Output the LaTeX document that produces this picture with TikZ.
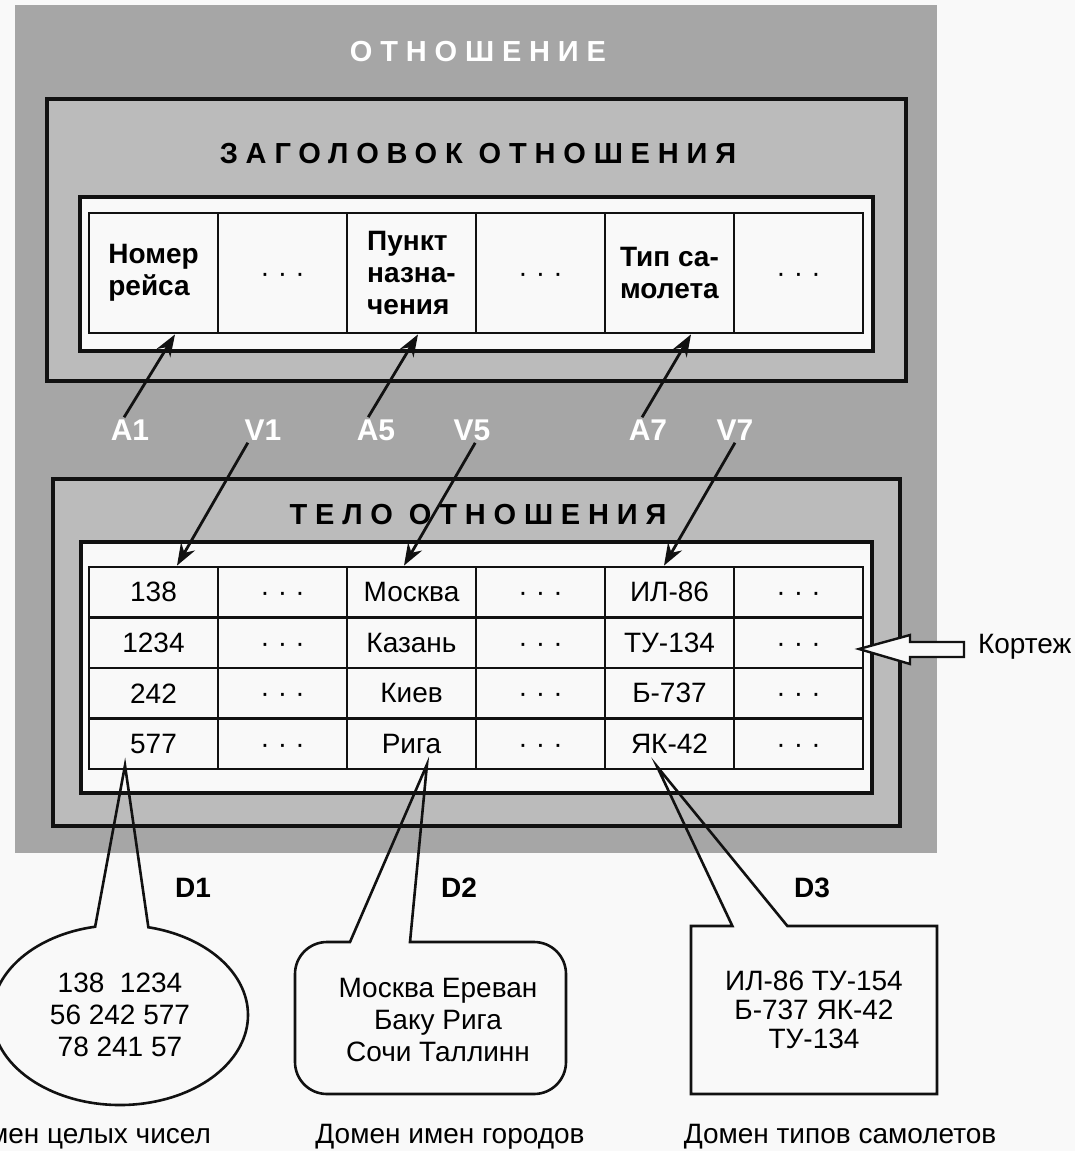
\documentclass[tikz,border=0pt]{standalone}
\usepackage{fontspec}
\setmainfont{Liberation Sans}
\newfontfamily\spacedfont[LetterSpace=27]{Liberation Sans}
\usetikzlibrary{positioning,calc,shapes.geometric,shapes.callouts,arrows.meta}
\definecolor{paper}   {HTML}{F9F9F9}
\definecolor{relgray} {HTML}{A6A6A6}
\definecolor{partgray}{HTML}{BBBBBB}
\definecolor{ink}     {HTML}{111111}
\newcommand\celldots{\mdseries\vphantom{0}\makebox[8.75pt]{·}\makebox[8.75pt]{·}\makebox[8.75pt]{·}}
\tikzset{
  >={Stealth[length=11pt,width=8pt]},
  % --- areas
  part/.style  = {draw=ink, line width=1.7pt, fill=partgray},
  frame/.style = {draw=ink, line width=1.7pt, fill=paper},
  % --- cells
  cell/.style  = {draw=ink, line width=1.4pt, fill=paper, minimum width=64.5pt,
                  inner sep=0pt, align=left},
  hcell/.style = {cell, minimum height=60pt, font=\fontsize{14}{16}\selectfont\bfseries},
  bcell/.style = {cell, minimum height=25.25pt, font=\fontsize{14}{16}\selectfont},
  % --- texts
  title/.style = {font=\spacedfont\bfseries\fontsize{14.5}{16}\selectfont},
  wlbl/.style  = {font=\fontsize{15}{16}\selectfont\bfseries, text=white, inner sep=1pt},
  dlbl/.style  = {font=\fontsize{14}{16}\selectfont\bfseries},
  txt/.style   = {font=\fontsize{14}{16}\selectfont, align=center},
  % --- lines
  callline/.style = {draw=ink, line width=1.3pt},
  link/.style     = {->, draw=ink, line width=1.4pt},
  fatarrow/.style = {draw=ink, line width=1.2pt, fill=paper, line join=miter},
}

\begin{document}
\begin{tikzpicture}[x=0.5pt,y=-0.5pt]
  \useasboundingbox (0,0) rectangle (1075,1151);
  \fill[paper] (0,0) rectangle (1075,1151);

  % relation
  \fill[relgray] (15,5) rectangle (937,853);
  \node[title, text=white] (rel) at (478,52) {ОТНОШЕНИЕ};

  % heading
  \draw[part] (47,99) rectangle (906,381);
  \node[title] (headttl) at (478,154) {ЗАГОЛОВОК ОТНОШЕНИЯ};
  \draw[frame] (80,197) rectangle (873,351);
  \foreach \t [count=\i] in {{Номер\\рейса},\celldots,{Пункт\\назна-\\чения},\celldots,{Тип са-\\молета},\celldots}
    \node[hcell] (h\i) at ({24.5+129*\i},273) {\t};

  % body
  \draw[part] (53,479) rectangle (900,826);
  \node[title] (bodyttl) at (478,515) {ТЕЛО ОТНОШЕНИЯ};
  \draw[frame] (81,542) rectangle (872,793);
  \foreach \num/\city/\plane [count=\j] in {138/Москва/ИЛ-86,1234/Казань/ТУ-134,242/Киев/Б-737,577/Рига/ЯК-42}
    \foreach \t [count=\i] in {\num,\celldots,\city,\celldots,\plane,\celldots}
      \node[bcell] (b\j\i) at ({24.5+129*\i},{541.75+50.5*\j}) {\t};

  % attributes and values
  \node[wlbl] (a1) at (130,430) {A1};
  \node[wlbl] (v1) at (263,430) {V1};
  \node[wlbl] (a5) at (376,430) {A5};
  \node[wlbl] (v5) at (472,430) {V5};
  \node[wlbl] (a7) at (648,430) {A7};
  \node[wlbl] (v7) at (735,430) {V7};
  \draw[link] (a1.115) -- ($(h1.south)+(21.5,0)$);
  \draw[link] (a5.121) -- ($(h3.south)+(6.5,0)$);
  \draw[link] (a7.115) -- ($(h5.south)+(21.5,0)$);
  \draw[link] (v1.220) -- ($(b11.north)+(23.5,0)$);
  \draw[link] (v5.284) -- ($(b13.north)+(-7.5,0)$);
  \draw[link] (v7.270) -- ($(b15.north)+(-5.5,0)$);

  % tuple
  \node[txt, anchor=west] (kort) at (971,647) {Кортеж};
  \coordinate (ktip) at (859,649);
  \draw[fatarrow] (ktip) -- ++(51,-14) -- ++(0,7) -- ++(54,0) -- ++(0,15)
    -- ++(-54,0) -- ++(0,7) -- cycle;

  % domains
  \node[dlbl] (d1) at (193,888) {D1};
  \node[dlbl] (d2) at (459,888) {D2};
  \node[dlbl] (d3) at (812,888) {D3};

  \node[ellipse callout, callline, txt, minimum width=128pt, minimum height=90pt,
        callout absolute pointer={($(b41.south)+(-28.5,-5)$)}, callout pointer arc=24]
        (dom1) at (120,1015) {138\ \ 1234\\56 242 577\\78 241 57};

  \node[txt] (dom2) at (438,1020) {Москва Ереван\\Баку Рига\\Сочи Таллинн};
  \coordinate (tip2) at ($(b43.south)+(15.5,-6)$);
  \draw[callline] (tip2) -- (350,942) [rounded corners=16pt] -- (295,942) -- (295,1094)
    -- (566,1094) -- (566,942) [sharp corners] -- (410,942) -- cycle;

  \node[rectangle callout, callline, txt, font=\fontsize{14}{14.5}\selectfont,
        minimum width=123pt, minimum height=84pt,
        callout absolute pointer={($(b45.south)+(-12.5,-4)$)}, callout pointer width=27.5pt]
        (dom3) at (814,1010) {ИЛ-86 ТУ-154\\Б-737 ЯК-42\\ТУ-134};

  \node[txt, anchor=east] (cap1) at (218,1137) {Домен целых чисел};
  \node[txt] (cap2) at (450,1137) {Домен имен городов};
  \node[txt] (cap3) at (840,1137) {Домен типов самолетов};
\end{tikzpicture}
\end{document}
